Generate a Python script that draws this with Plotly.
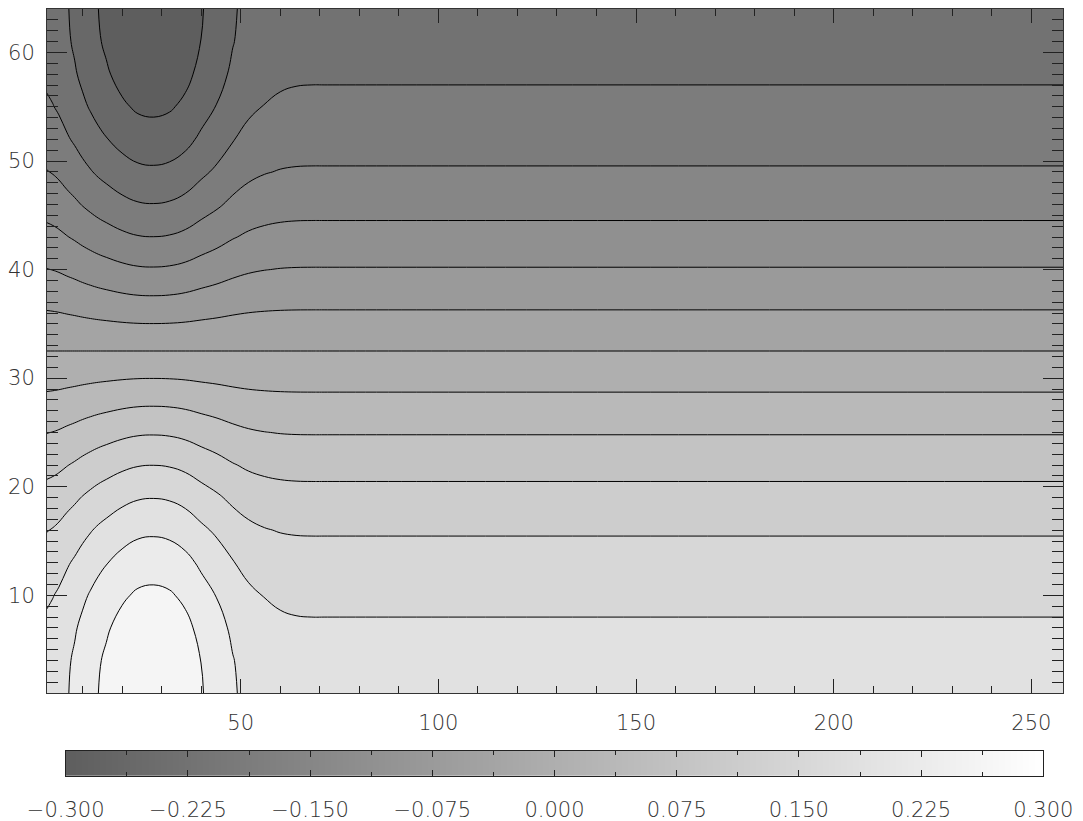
import plotly.graph_objects as go

# Column positions (x) and the amplitude of the field read at each column
x_cols = [1, 2.5, 4, 6, 8, 10, 12, 14, 16, 20, 24, 28, 32, 36, 40, 44, 48, 52, 56, 60, 64, 68, 72, 258]
amp_x = [0.203, 0.207, 0.2125, 0.2225, 0.232, 0.243, 0.253, 0.2625, 0.2705, 0.286, 0.2966, 0.2993,
         0.2954, 0.2839, 0.265, 0.248, 0.229, 0.215, 0.207, 0.2025, 0.2005, 0.2, 0.2, 0.2]

y_rows = [1, 4, 7, 10, 13, 16, 19, 22, 25, 28, 31, 34, 37, 40, 43, 46, 49, 52, 55, 58, 61, 64]
prof_y = [1.0, 0.98883, 0.95557, 0.90097, 0.82624, 0.73305, 0.62349, 0.5, 0.36534, 0.22252,
          0.07473, -0.07473, -0.22252, -0.36534, -0.5, -0.62349, -0.73305, -0.82624,
          -0.90097, -0.95557, -0.98883, -1.0]

# Contour levels / colour bar
level_start, level_end, level_step = -0.2625, 0.2625, 0.0375
cbar_min, cbar_max = -0.3, 0.3
cbar_ticks = [-0.3, -0.225, -0.15, -0.075, 0.0, 0.075, 0.15, 0.225, 0.3]

z = [[a * g for a in amp_x] for g in prof_y]

FONT = dict(family="DejaVu Sans", size=21, color="#333333", weight=200)

fig = go.Figure()
fig.add_trace(go.Contour(
    x=x_cols, y=y_rows, z=z,
    contours=dict(start=level_start, end=level_end, size=level_step, coloring="fill"),
    colorscale=[[0, "rgb(94,94,94)"], [1, "rgb(245,245,245)"]],
    line=dict(color="black", width=1, smoothing=1.2),
    showscale=False, hoverinfo="skip",
))

fig.add_trace(go.Heatmap(
    x=[cbar_min, cbar_max], y=[0, 1],
    z=[[cbar_min, cbar_max], [cbar_min, cbar_max]],
    zmin=cbar_min, zmax=cbar_max, zsmooth="best",
    colorscale=[[0, "rgb(94,94,94)"], [1, "rgb(255,255,255)"]],
    showscale=False, xaxis="x2", yaxis="y2", hoverinfo="skip",
))

W, H = 1083, 821
ml, mr, mt, mb = 47, 20, 9, 45
pw, ph = W - ml - mr, H - mt - mb

fig.update_layout(
    width=W, height=H,
    margin=dict(l=ml, r=mr, t=mt, b=mb, autoexpand=False),
    paper_bgcolor="white", plot_bgcolor="white",
    font=FONT, showlegend=False,
    xaxis=dict(
        range=[1, 258], domain=[0, 1], anchor="y", automargin=False,
        tick0=0, dtick=50, ticks="inside", ticklen=14, tickcolor="#222",
        showline=True, linecolor="#333", linewidth=1, mirror="allticks",
        showgrid=False, zeroline=False, ticklabelstandoff=11,
        minor=dict(dtick=10, ticks="inside", ticklen=7, tickcolor="#222", showgrid=False),
    ),
    yaxis=dict(
        range=[1, 64], domain=[(776 - 693) / ph, 1], anchor="x", automargin=False,
        tick0=0, dtick=10, ticks="inside", ticklen=20, tickcolor="#222",
        showline=True, linecolor="#333", linewidth=1, mirror="allticks",
        showgrid=False, zeroline=False, ticklabelstandoff=7,
        minor=dict(dtick=1, ticks="inside", ticklen=11, tickcolor="#222", showgrid=False),
    ),
    xaxis2=dict(
        range=[cbar_min, cbar_max], domain=[(65.7 - ml) / pw, (1043.3 - ml) / pw], anchor="y2",
        automargin=False,
        tickvals=cbar_ticks, tickformat=".3f", ticks="inside", ticklen=6, tickcolor="#222",
        showline=True, linecolor="#222", linewidth=1, mirror="allticks",
        showgrid=False, zeroline=False, ticklabelstandoff=15,
        minor=dict(dtick=0.0375, tick0=0, ticks="inside", ticklen=4, tickcolor="#222", showgrid=False),
    ),
    yaxis2=dict(
        range=[0, 1], domain=[0, (776 - 750.7) / ph], anchor="x2", automargin=False,
        showticklabels=False, ticks="", showline=True, linecolor="#222", linewidth=1,
        mirror=True, showgrid=False, zeroline=False,
    ),
)

fig.write_html("out.html")
